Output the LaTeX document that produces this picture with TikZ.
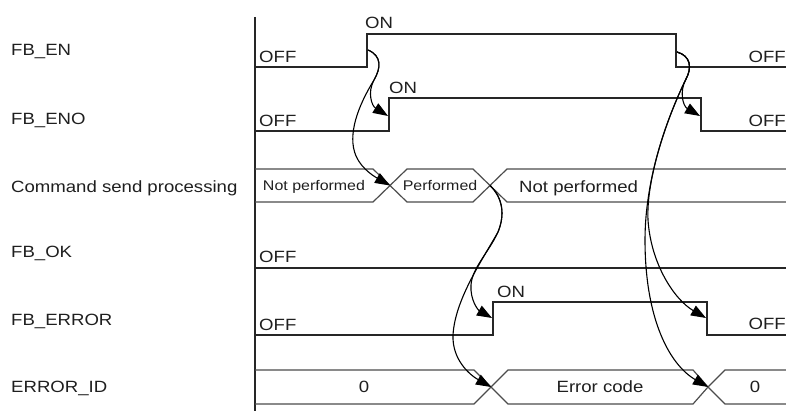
\documentclass[tikz,border=0pt]{standalone}
\usepackage{fontspec}
\setmainfont{Liberation Sans}[FakeStretch=1.14]
\usetikzlibrary{arrows.meta}
\begin{document}
\begin{tikzpicture}[x=1pt,y=-1pt,
  sig/.style={line width=1.3pt, draw=black!85, line join=miter},
  bus/.style={line width=1.2pt, draw=black!70},
  cause/.style={line width=1.1pt, draw=black, -{Triangle[length=15pt,width=11pt]}},
  lbl/.style={anchor=base west, inner sep=0pt, font=\fontsize{16.3}{19}\selectfont, text=black!88},
  lble/.style={anchor=base east, inner sep=0pt, font=\fontsize{16.3}{19}\selectfont, text=black!88},
  bigc/.style={anchor=base, inner sep=0pt, font=\fontsize{16.3}{19}\selectfont, text=black!88},
  smallc/.style={anchor=base, inner sep=0pt, font=\fontsize{14}{16}\selectfont, text=black!88}
]
\useasboundingbox (0,0) rectangle (786,411);

% axis
\draw[sig] (255,17) -- (255,411);

% signal names
\node[lbl] (nEN)   at (11,56)  {FB\_EN};
\node[lbl] (nENO)  at (11,125) {FB\_ENO};
\node[lbl] (nCMD)  at (11,193) {Command send processing};
\node[lbl] (nOK)   at (11,258) {FB\_OK};
\node[lbl] (nERR)  at (11,325) {FB\_ERROR};
\node[lbl] (nID)   at (11,392) {ERROR\_ID};

% FB_EN
\draw[sig] (255,67) -- (367,67) -- (367,34) -- (676,34) -- (676,67) -- (786,67);
\node[lbl]  (enOff1) at (259,63) {OFF};
\node[lbl]  (enOn)   at (365,29) {ON};
\node[lble] (enOff2) at (786,63) {OFF};

% FB_ENO
\draw[sig] (255,131) -- (389,131) -- (389,98) -- (701,98) -- (701,131) -- (786,131);
\node[lbl]  (enoOff1) at (259,127) {OFF};
\node[lbl]  (enoOn)   at (389,94)  {ON};
\node[lble] (enoOff2) at (786,127) {OFF};

% Command send processing
\draw[bus] (255,169) -- (373,169) -- (390,185.5) -- (373,202) -- (255,202);
\draw[bus] (390,185.5) -- (407,169) -- (473,169) -- (490,185.5) -- (473,202) -- (407,202) -- cycle;
\draw[bus] (786,169) -- (507,169) -- (490,185.5) -- (507,202) -- (786,202);
\node[smallc] (cmd1) at (314,191) {Not performed};
\node[smallc] (cmd2) at (440,191) {Performed};
\node[lbl]    (cmd3) at (519,193) {Not performed};

% FB_OK
\draw[sig] (255,268) -- (786,268);
\node[lbl] (okOff) at (259,263) {OFF};

% FB_ERROR
\draw[sig] (255,335) -- (493,335) -- (493,302) -- (707,302) -- (707,335) -- (786,335);
\node[lbl]  (errOff1) at (259,330) {OFF};
\node[lbl]  (errOn)   at (497,298) {ON};
\node[lble] (errOff2) at (786,329) {OFF};

% ERROR_ID
\draw[bus] (255,370) -- (474,370) -- (491,387) -- (474,404) -- (255,404);
\draw[bus] (491,387) -- (508,370) -- (693,370) -- (708,387) -- (693,404) -- (508,404) -- cycle;
\draw[bus] (786,370) -- (725,370) -- (708,387) -- (725,404) -- (786,404);
\node[bigc] (id1) at (364,392.5) {0};
\node[bigc] (id2) at (600,392.5) {Error code};
\node[bigc] (id3) at (755,392.5) {0};

% edge points
\coordinate (enR)  at (368,50);
\coordinate (enF)  at (677,52);
\coordinate (enoR) at (388,116);
\coordinate (enoF) at (700,116);
\coordinate (cmdX1) at (390,185.5);
\coordinate (cmdX2) at (490,185.5);
\coordinate (errR) at (492,318);
\coordinate (errF) at (706,318);
\coordinate (idX1) at (491,387);
\coordinate (idX2) at (708,387);

% cause-effect arrows
\draw[cause] (enR) .. controls (382,56) and (381,68) .. (374,80)
  .. controls (367,93) and (372,106) .. (enoR);
\draw[cause] (enR) .. controls (382,56) and (381,68) .. (374,80)
  .. controls (358,106) and (347,135) .. (356,156)
  .. controls (362,170) and (377,178) .. (cmdX1);
\draw[cause] (cmdX2) .. controls (503,198) and (505,215) .. (498,232)
  .. controls (489,252) and (472,268) .. (471,285)
  .. controls (470,300) and (478,310) .. (errR);
\draw[cause] (cmdX2) .. controls (503,198) and (505,215) .. (498,232)
  .. controls (481,262) and (455,300) .. (453,335)
  .. controls (452,360) and (470,375) .. (idX1);
\draw[cause] (enF) .. controls (691,56) and (692,68) .. (686,79)
  .. controls (679,92) and (683,106) .. (enoF);
\draw[cause] (enF) .. controls (691,56) and (692,68) .. (686,79)
  .. controls (666,120) and (646,180) .. (648,220)
  .. controls (651,265) and (675,300) .. (errF);
\draw[cause] (enF) .. controls (691,56) and (692,68) .. (686,79)
  .. controls (666,120) and (645,180) .. (645,240)
  .. controls (645,320) and (670,365) .. (idX2);
\end{tikzpicture}
\end{document}
